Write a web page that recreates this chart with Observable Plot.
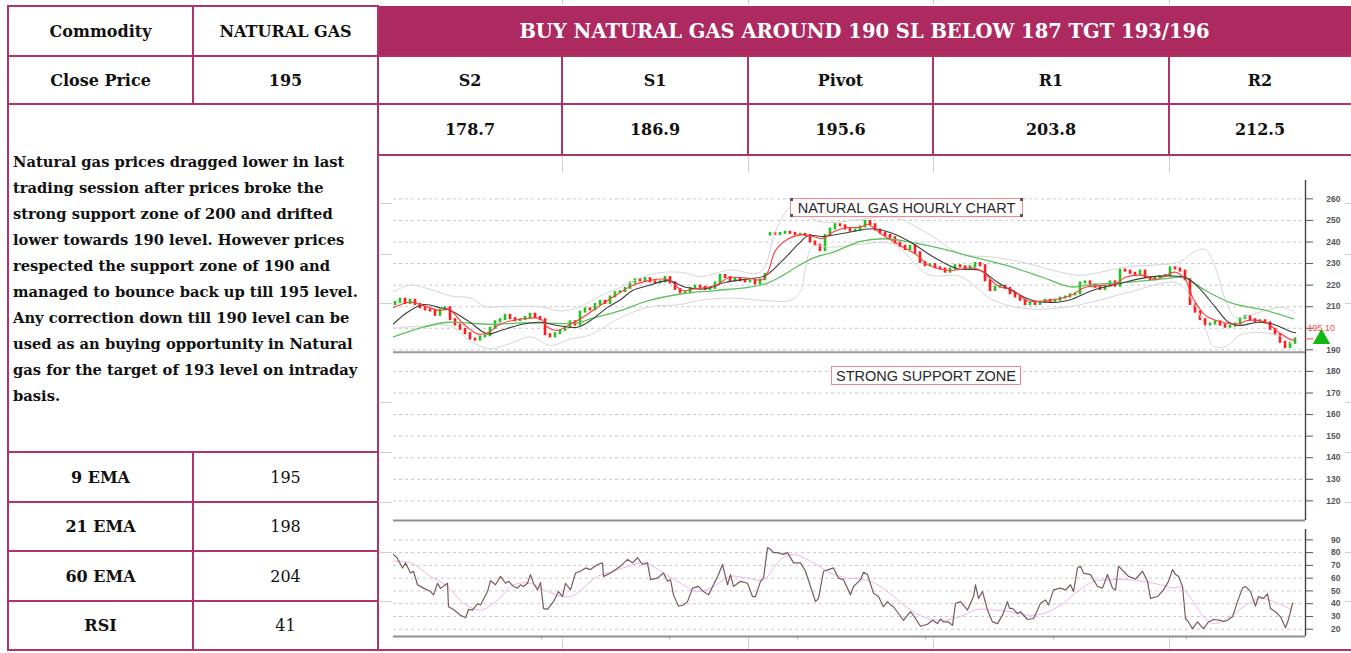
<!DOCTYPE html>
<html><head><meta charset="utf-8">
<script src="https://cdn.jsdelivr.net/npm/d3@7"></script>
<script src="https://cdn.jsdelivr.net/npm/@observablehq/plot@0.6"></script>
<style>
body{margin:0;background:#fff;width:1351px;height:653px;overflow:hidden;position:relative;font-family:"DejaVu Serif",serif;color:#111;}
.ln{position:absolute;background:#b0336c;}
.fl{position:absolute;background:#cfcfcf;}
.cell{position:absolute;display:flex;align-items:center;justify-content:center;font-size:16px;white-space:nowrap;}
.b{font-weight:bold;}
.note{position:absolute;font-family:"Liberation Sans",Arial,sans-serif;font-size:14.5px;color:#2a2a2a;border:1px solid #f08a8a;box-sizing:border-box;display:flex;align-items:center;justify-content:center;white-space:nowrap;background:#fff;}
.hd{position:absolute;width:3px;height:3px;background:#555;}
.chart{position:absolute;}
</style></head><body>
<script>
// ---------- table content ----------
const commodity = "NATURAL GAS";
const closePrice = "195";
const headline = "BUY NATURAL GAS AROUND 190 SL BELOW 187 TGT 193/196";
const levelNames = ["S2", "S1", "Pivot", "R1", "R2"];
const levelValues = ["178.7", "186.9", "195.6", "203.8", "212.5"];
const indicatorNames = ["9 EMA", "21 EMA", "60 EMA", "RSI"];
const indicatorValues = ["195", "198", "204", "41"];
const commentaryLines = [
  "Natural gas prices dragged lower in last",
  "trading session after prices broke the",
  "strong support zone of 200 and drifted",
  "lower towards 190 level. However prices",
  "respected the support zone of 190 and",
  "managed to bounce back up till 195 level.",
  "Any correction down till 190 level can be",
  "used as an buying opportunity in Natural",
  "gas for the target of 193 level on intraday",
  "basis."
];
const chartTitle = "NATURAL GAS HOURLY CHART";
const zoneLabel = "STRONG SUPPORT ZONE";

// ---------- hourly candles (close of each bar) ----------
const firstOpen = 211;
const closes = [
212,213.5,211.5,213,211,209.5,208.5,208,206,208.5,
209.5,204,201.5,199.5,197.5,195,194.5,196,196.5,200,
203,204,206,204.5,203.5,204,205,206.5,205,204,
197,196,197.5,199,200.5,203,201.5,207.5,209,208.5,
211,212.5,211.5,214.5,216.5,217,218.5,221,222.5,222,
223,221.5,221,221.5,223.5,221,218,216.5,216.5,218.5,
219.5,219,218,218.5,221,224.5,223.5,222,223,222,
221.5,222,220.5,222.5,225,244,243.5,244,244.5,244,
243.5,243.5,243,240,238.5,236,243,246,248,247.5,
246,245,245.5,247,249.5,248,245.5,244,243,242,
239.5,238,236.5,238,235,230.5,229,229.5,228,227.5,
226,227.5,229,228.5,227.5,228.5,230,229,222,217.5,
219,219.5,218.5,216,214.5,213,211,211.5,211,212,
213,212.5,213,214,214.5,215.5,216,221,221.5,220,
219,218,219.5,221.5,219.5,227,226.5,225.5,225,226.5,
223.5,222.5,223.5,224,224.5,228,227.5,226.5,222.5,211,
207.5,204,201.5,202,203,201.5,200.5,201,202,204.5,
205.5,204,203,203.5,202.5,199.5,197,193.5,191,193,
195.1];
const gapIndex = [75];
const gapOpen = [243.2];

// ---------- indicator lines [bar, value] ----------
const ema9 = [[-0.4,209.7],[3,212.1],[5.6,210.5],[9,208.2],[10.6,209],[13.6,202],[16.4,197.4],[18.4,197.8],[21,202],[25.6,204.4],[29,204.4],[30.4,200.5],[32.4,199],[35,202],[37,204.4],[40.4,209.7],[44,215.2],[47.4,219.8],[50.6,222.1],[54.6,222.5],[57.4,217.5],[60,218.3],[64,219.8],[66.6,223.4],[70.6,223.2],[73.4,222.5],[74.6,226.8],[76,236],[78.6,241.5],[81.4,243.4],[84,242.2],[85.4,241.5],[87.4,244.5],[90,246.6],[93,246.8],[94.4,248.2],[97.6,243],[101,238.3],[104.4,233.7],[106.4,229.5],[111,226.8],[115.6,228],[117.6,226],[120.4,219.8],[123.6,217.5],[126.4,212.8],[130.4,212.8],[135,215.2],[138,219],[144,220.6],[146,223.7],[150,224.4],[152,222.6],[156,226],[158,222.5],[159.4,214.4],[162,206],[165.4,202.8],[168.6,202],[170.4,203.6],[174,202.8],[176.6,198.2],[179.4,194.5],[180,194.8]];
const ema21 = [[-0.4,202],[2.4,207.4],[5.6,211],[9,209.5],[11,208.2],[14.4,203.6],[18.4,197.4],[21,199],[25.6,202],[29,202.8],[32.4,201.3],[36.4,200.5],[39,203.6],[42.4,209.7],[45,213.2],[47.4,217.5],[50.6,219.8],[54.6,222.1],[58,219],[62,218.3],[66,221.3],[70.6,222.9],[74,224.4],[77.4,231.4],[80.6,239.1],[82.6,243],[85.4,242.5],[90,244.2],[95.6,246.1],[99.6,243.8],[103.6,239.1],[107.6,233],[112.4,227.6],[117,226.8],[120.4,221.3],[124.4,216],[127.6,212.8],[132.4,212.1],[135,213.2],[139.4,217.5],[144.6,220.6],[150.6,223.7],[156.6,224.1],[158,223.5],[160.6,219],[164,209.7],[166.6,202.8],[168.6,201.3],[172.6,202.8],[175.4,202],[179.4,198.2],[180,198]];
const ema60 = [[-0.4,196],[5.6,200.5],[10.4,202.8],[19,201.8],[25.6,202.5],[36.4,202.5],[39,204.4],[45,208.2],[50.6,212.8],[57.4,216],[64,217.5],[70.6,219],[74,220.6],[77.4,224.4],[80.6,229],[84,233],[87.4,235.2],[90,237.6],[93,240.3],[97.6,241.5],[102.4,240.2],[109,237],[115.6,233],[122.4,229],[129,224],[135,219.2],[139.6,220.4],[147.4,221.5],[153,222.8],[157,223.7],[158,223.5],[162,217.5],[167.4,211.5],[174,208.3],[179.6,204.4]];
const bandUpper = [[-0.4,217],[3,220],[7,218],[11,215],[15,214],[18,210],[21,210],[29,210],[33,208],[37,210],[41,215],[45,219],[51,225],[57,226],[61,224],[67,227],[73,226],[76,245],[79,256],[81.6,255],[84,250],[87,249],[93,250.5],[99.6,251.5],[106.4,244],[113,234.5],[119.6,233],[126.4,230],[133,226],[137,224.5],[141,226],[146.4,228.5],[153,229.5],[157,231],[159.4,235],[162,236.5],[164,228],[166,213],[168,205],[170.6,206],[177.4,209.7],[180,207]];
const bandLower = [[-0.4,200],[5,201],[11,201],[15,194],[19,190.5],[23,193],[27,196],[31,192],[35,195],[39,197],[45,205],[51,210],[57,211],[61,213],[67,214],[73,213],[76,212.5],[79,213],[81,217],[82,228],[83.4,238],[87,237.5],[93,239],[99.6,239],[106.4,225],[113,224],[119.6,213],[126.4,209],[133,209.5],[139,212],[146.4,216.5],[156.4,221],[159.6,212],[162,200],[163.4,192],[166,191.5],[169,197],[173,198],[177.4,196],[180,191]];
const rsi = [[-0.4,78.6],[0.3,76],[1.4,68],[2,72],[3,64],[3.6,65.4],[4.4,54.8],[5.6,52.2],[7,49.5],[7.6,46.9],[8.4,56],[9,52],[10.4,56],[10.6,37.6],[11.6,35.5],[13,31],[14,29],[14.6,35.5],[15.4,35],[16.4,40],[17,39],[18.4,49.5],[19,58],[20,54.8],[21,61.4],[22,56],[22.6,57.5],[23.6,53.5],[24.4,52.2],[25,54.8],[25.6,53.5],[26.4,56],[27,62.8],[27.6,56],[28.4,50.8],[29,56.7],[29.6,36.3],[30.4,35.5],[31.6,41.6],[32.6,49.5],[33.4,45.6],[34,56],[35,50.8],[36,64],[37,65.4],[38,68],[39,66.7],[40.4,70.7],[41.4,72],[41.6,61.4],[43,64],[45,69.4],[46.4,74.7],[47.4,72],[48.4,76],[49.4,70.7],[50.4,72],[51,58.8],[52.4,60],[53.6,64],[54.4,57.5],[55,58.8],[55.6,46.9],[56.6,38],[57.6,39],[58.4,41.6],[59.4,52.2],[60.6,53.5],[61.6,49.5],[62.6,46.9],[63.6,54.8],[64.6,62.8],[65.4,70.7],[66.4,54.8],[67,62.8],[67.6,53.5],[69,57.5],[70.4,56],[71.4,45.6],[72,45.6],[73,57.5],[73.6,60],[74.4,83.9],[75,82.6],[75.6,80],[76.4,80],[77.6,78.6],[78.4,80],[79.6,72],[81,72],[82,65.4],[83,53.5],[84,41.6],[84.6,44.2],[85.6,65.4],[86.6,66.7],[87.6,68],[88.6,60],[89.6,58.8],[91,46.9],[91.6,53.5],[93,58.8],[93.6,64.6],[94.4,62.8],[95.6,48.2],[96.6,45.6],[97.6,37.6],[98.4,41.6],[99,39],[99.6,37.6],[100.6,32.3],[101.6,27],[103,33.7],[104,28.4],[105,22.3],[106.4,23.9],[107.4,27],[108.4,24.4],[109,28],[109.6,25.7],[110.6,25.7],[111.4,23],[112,40.3],[113,41.6],[114.4,35],[115.6,45.6],[116,54.8],[116.6,44.2],[117.4,49.5],[118.4,35],[119.4,25.7],[120.4,24.4],[121.4,31],[122.4,41.6],[122.8,36.3],[123.4,36.3],[124.4,32.3],[125,33.7],[126.4,27.6],[127.6,28.4],[128.4,35],[129,40.3],[130,42.9],[130.6,38.9],[131.6,50.8],[133,52.2],[134,50.8],[135,54.8],[135.6,49.5],[136.4,68],[137,69.4],[137.6,64],[139,62.8],[140.4,53.5],[141.4,52.2],[142.4,62.8],[143.4,52.2],[144,50.8],[144.6,69.4],[145.6,65.4],[146.6,61.4],[148,59.3],[149.4,65.4],[150.4,57.5],[151,44.2],[152.4,45.6],[153.6,50.8],[154.6,57.5],[155.4,66.7],[156,62.8],[156.6,61.4],[157.4,53.5],[158,28.4],[158.6,25.7],[159.4,20.4],[160.4,25.7],[161,23],[161.6,20.4],[162.6,25.7],[163.6,27.6],[165,27],[165.6,26],[166.4,27],[167.4,29.7],[168.4,41.6],[169.4,52.2],[170,53.5],[171,49.5],[172,38.1],[172.6,45.6],[173.6,44.2],[174.4,47.7],[175,36.3],[176,33.7],[177,29.7],[178,21.2],[178.6,27.6],[179.4,40.5]];
const rsiSignal = [[-0.4,73.3],[3,72],[7,61.4],[10.4,53.5],[13.6,40.3],[17,35],[20.4,42.9],[23.6,54.8],[27,56],[30.4,49.5],[35,45.6],[40.4,61.4],[43.6,65.4],[49,72],[50.4,71.5],[53.6,64],[57,56],[60.4,49.5],[63.6,53.5],[67,61.4],[70.4,60],[73.6,58.8],[77,74.7],[79.6,78.6],[83.6,72],[87,64],[90.4,60],[93,59.5],[96.4,54.8],[99.6,45.6],[103,35],[106.4,28.4],[109.6,27],[113,30],[116.4,35.5],[119.6,35],[123,33.6],[126.4,31],[129.6,32.3],[133,38.9],[136.4,49.5],[139.6,57.5],[143,58.8],[146.4,58.8],[149.6,57.5],[153,54.8],[155.6,52.2],[157,53],[159.6,41.6],[161.6,29.7],[163.6,24.4],[166.4,28.4],[169.6,37.6],[173,44.2],[176.4,40.3],[179.4,35]];

const priceTicks = [120,130,140,150,160,170,180,190,200,210,220,230,240,250,260];
const hiddenPriceLabel = 200; // covered by the last-price tag in the reference
const rsiTicks = [20,30,40,50,60,70,80,90];
const supportLevel = 188.9;
const dateTicks = [29.2, 54.8, 80.4, 106, 131.6, 158.2];

// ---------- layout ----------
const X = [8, 193, 378];
const RX = [378, 562, 748, 933, 1169, 1351];
const Y = {top: 6, r1: 56, r2: 104, r3: 155, e1: 452, e2: 502, e3: 551, e4: 601, bot: 650};
const body = document.body;
function el(cls, css, html) {
  const d = document.createElement("div");
  d.className = cls;
  Object.assign(d.style, css);
  if (html !== undefined) d.innerHTML = html;
  body.appendChild(d);
  return d;
}
function cell(x0, y0, x1, y1, text, bold, extra) {
  return el("cell" + (bold ? " b" : ""), Object.assign({left: x0 + "px", top: y0 + "px", width: (x1 - x0) + "px", height: (y1 - y0) + "px"}, extra || {}), text);
}
// banner
el("", {position: "absolute", left: RX[0] + "px", top: Y.top + "px", width: (1351 - RX[0]) + "px", height: (Y.r1 - Y.top) + "px", background: "#ad2a61"});
cell(RX[0], Y.top, 1351, Y.r1 + 1, headline, true, {color: "#fff", fontSize: "19.5px"});
// row 1-2 left
cell(X[0], Y.top, X[1], Y.r1, "Commodity", true);
cell(X[1], Y.top, X[2], Y.r1, commodity, true);
cell(X[0], Y.r1, X[1], Y.r2, "Close Price", true);
cell(X[1], Y.r1, X[2], Y.r2, closePrice, true);
levelNames.forEach((n, k) => {
  cell(RX[k], Y.r1, RX[k + 1], Y.r2, n, true);
  cell(RX[k], Y.r2, RX[k + 1], Y.r3, levelValues[k], true);
});
// commentary
el("", {position: "absolute", left: "13px", top: "149px", fontWeight: "bold", fontSize: "14.7px", lineHeight: "26px", whiteSpace: "nowrap", color: "#111"}, commentaryLines.join("<br>"));
// indicators
const eRows = [Y.e1, Y.e2, Y.e3, Y.e4, Y.bot];
indicatorNames.forEach((n, k) => {
  cell(X[0], eRows[k], X[1], eRows[k + 1], n, true);
  cell(X[1], eRows[k], X[2], eRows[k + 1], indicatorValues[k], false);
});
// border lines
function hl(x0, x1, y) { el("ln", {left: x0 + "px", top: (y - 1) + "px", width: (x1 - x0 + 1) + "px", height: "2px"}); }
function vl(x, y0, y1) { el("ln", {left: (x - 1) + "px", top: (y0 - 1) + "px", width: "2px", height: (y1 - y0 + 2) + "px"}); }
hl(X[0], X[2], Y.top);
hl(X[0], 1351, Y.r1);
hl(X[0], 1351, Y.r2);
hl(RX[0], 1351, Y.r3);
[Y.e1, Y.e2, Y.e3, Y.e4].forEach(y => hl(X[0], X[2], y));
hl(X[0], 1351, Y.bot);
vl(X[0], Y.top, Y.bot);
vl(X[1], Y.top, Y.r2);
vl(X[1], Y.e1, Y.bot);
vl(X[2], Y.top, Y.bot);
RX.slice(1, 5).forEach(x => vl(x, Y.r1, Y.r3));
// faint underlying grid stubs
RX.slice(1, 5).forEach(x => {
  el("fl", {left: x + "px", top: "156px", width: "1px", height: "17px"});
  el("fl", {left: x + "px", top: "638px", width: "1px", height: "11px"});
  el("fl", {left: x + "px", top: "0px", width: "1px", height: "5px"});
});
[203, 254, 303, 402, 452, 502, 552, 601].forEach(y => {
  el("fl", {left: "380px", top: y + "px", width: "12px", height: "1px"});
  el("fl", {left: "1345px", top: y + "px", width: "6px", height: "1px"});
});

// ---------- charts ----------
const candles = closes.map((c, i) => {
  const g = gapIndex.indexOf(i);
  const o = g >= 0 ? gapOpen[g] : (i === 0 ? firstOpen : closes[i - 1]);
  return {i, open: o, close: c};
});
const pts = a => a.map(([i, v]) => ({i, v}));
const xDomain = [-0.4, 182];
const lastClose = closes[closes.length - 1];
const axisFont = "'Liberation Sans', Arial, sans-serif";

const price = Plot.plot({
  width: 971, height: 350,
  marginLeft: 13, marginRight: 46, marginTop: 5, marginBottom: 5,
  style: {background: "transparent", fontFamily: axisFont, overflow: "visible"},
  x: {domain: xDomain, axis: null},
  y: {domain: [110.9, 268.5], axis: null},
  marks: [
    Plot.ruleY(priceTicks, {stroke: "#c8c8c8", strokeDasharray: "3,3", strokeWidth: 1}),
    Plot.rect(candles, {x1: d => d.i - 0.26, x2: d => d.i + 0.26, y1: "open", y2: "close",
      fill: d => d.close >= d.open ? "#1fc41f" : "#ff1c1c", insetTop: -1, insetBottom: -1}),
    Plot.line(pts(bandUpper), {x: "i", y: "v", stroke: "#d6d6d6", strokeWidth: 1, curve: "catmull-rom"}),
    Plot.line(pts(bandLower), {x: "i", y: "v", stroke: "#d6d6d6", strokeWidth: 1, curve: "catmull-rom"}),
    Plot.line(pts(ema60), {x: "i", y: "v", stroke: "#5fc05f", strokeWidth: 1.3, curve: "catmull-rom"}),
    Plot.line(pts(ema21), {x: "i", y: "v", stroke: "#3c3c3c", strokeWidth: 1.1, curve: "catmull-rom"}),
    Plot.line(pts(ema9), {x: "i", y: "v", stroke: "#ff3b3b", strokeWidth: 1.1, curve: "catmull-rom"}),
    Plot.ruleY([supportLevel], {stroke: "#9a9a9a", strokeWidth: 2}),
    Plot.ruleY([110.9], {stroke: "#8f8f8f", strokeWidth: 2}),
    Plot.ruleX([xDomain[1]], {stroke: "#444", strokeWidth: 1.4}),
    Plot.axisY(priceTicks, {anchor: "right", label: null, tickSize: 7, tickPadding: 28, textAnchor: "end",
      tickFormat: d => (d === hiddenPriceLabel ? "" : String(d)), fontSize: 8.5, fontWeight: "bold", color: "#555"}),
    Plot.ruleY([lastClose], {x1: xDomain[1], x2: xDomain[1] + 1.7, stroke: "#ff5050", strokeWidth: 1}),
    Plot.text([lastClose], {x: xDomain[1], y: d => d, text: d => d.toFixed(2), dx: 2, dy: -11, textAnchor: "start", fill: "#ff4a4a", fontSize: 9}),
    Plot.dot([lastClose], {x: xDomain[1], y: d => d, dx: 16, symbol: "triangle", r: 6.5, fill: "#14b814", stroke: "none"})
  ]
});
const pw = document.createElement("div");
pw.className = "chart";
Object.assign(pw.style, {left: "380px", top: "175px"});
pw.appendChild(price);
body.appendChild(pw);

const rsiChart = Plot.plot({
  width: 971, height: 118,
  marginLeft: 13, marginRight: 46, marginTop: 5, marginBottom: 6,
  style: {background: "transparent", fontFamily: axisFont, overflow: "visible"},
  x: {domain: xDomain, axis: null},
  y: {domain: [14.3, 98.1], axis: null},
  marks: [
    Plot.ruleY(rsiTicks, {stroke: "#c8c8c8", strokeDasharray: "3,3", strokeWidth: 1}),
    Plot.line(pts(rsiSignal), {x: "i", y: "v", stroke: "#f2b3ee", strokeWidth: 1, curve: "catmull-rom"}),
    Plot.line(pts(rsi), {x: "i", y: "v", stroke: "#7a5a5a", strokeWidth: 1.2}),
    Plot.ruleY([14.3], {stroke: "#8f8f8f", strokeWidth: 2}),
    Plot.ruleX([xDomain[1]], {stroke: "#444", strokeWidth: 1.4}),
    Plot.axisY(rsiTicks, {anchor: "right", label: null, tickSize: 7, tickPadding: 28, textAnchor: "end", fontSize: 8.5, fontWeight: "bold", color: "#555"}),
    Plot.axisX(dateTicks, {anchor: "bottom", label: null, tickSize: 3, tickFormat: () => "", color: "#999"})
  ]
});
const rw = document.createElement("div");
rw.className = "chart";
Object.assign(rw.style, {left: "380px", top: "524px"});
rw.appendChild(rsiChart);
body.appendChild(rw);

// annotation boxes
el("note", {left: "790px", top: "198px", width: "233px", height: "19px"}, chartTitle);
[[790, 198], [1020, 198], [790, 214], [1020, 214]].forEach(([x, y]) => el("hd", {left: x + "px", top: y + "px"}));
el("note", {left: "831px", top: "366px", width: "190px", height: "19px"}, zoneLabel);
</script>
</body></html>
